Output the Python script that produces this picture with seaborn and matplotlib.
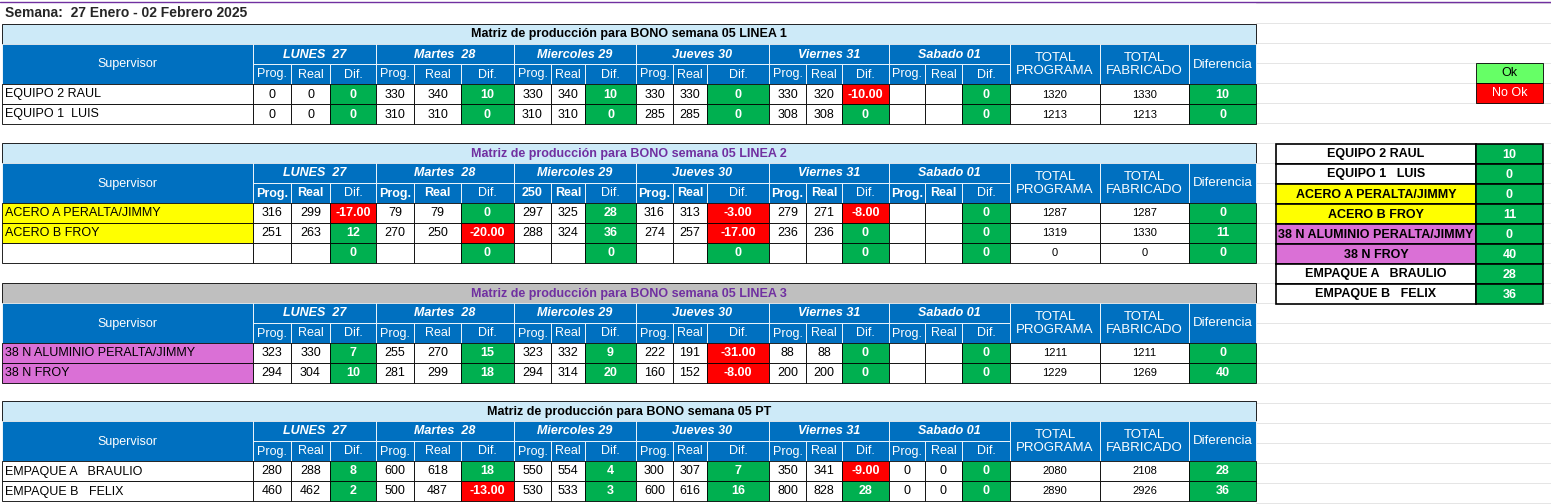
import matplotlib
matplotlib.use("Agg")
import matplotlib.pyplot as plt
from matplotlib.patches import Rectangle
import seaborn as sns

sns.set_style("white")
plt.rcParams["font.family"] = ["Liberation Sans", "DejaVu Sans"]

# ---- data ----
week_label = "Semana:  27 Enero - 02 Febrero 2025"
days = ["LUNES  27", "Martes  28", "Miercoles 29", "Jueves 30", "Viernes 31", "Sabado 01"]

titles = [
    "Matriz de producción para BONO semana 05 LINEA 1",
    "Matriz de producción para BONO semana 05 LINEA 2",
    "Matriz de producción para BONO semana 05 LINEA 3",
    "Matriz de producción para BONO semana 05 PT",
]

linea1_names = ["EQUIPO 2 RAUL", "EQUIPO 1  LUIS"]
linea1_prog = [[0, 330, 330, 330, 330, None], [0, 310, 310, 285, 308, None]]
linea1_real = [[0, 340, 340, 330, 320, None], [0, 310, 310, 285, 308, None]]
linea1_dif = [[0, 10, 10, 0, -10, 0], [0, 0, 0, 0, 0, 0]]
linea1_tot = [[1320, 1330, 10], [1213, 1213, 0]]

linea2_names = ["ACERO A PERALTA/JIMMY", "ACERO B FROY", ""]
linea2_prog = [[316, 79, 297, 316, 279, None], [251, 270, 288, 274, 236, None], [None] * 6]
linea2_real = [[299, 79, 325, 313, 271, None], [263, 250, 324, 257, 236, None], [None] * 6]
linea2_dif = [[-17, 0, 28, -3, -8, 0], [12, -20, 36, -17, 0, 0], [0, 0, 0, 0, 0, 0]]
linea2_tot = [[1287, 1287, 0], [1319, 1330, 11], [0, 0, 0]]

linea3_names = ["38 N ALUMINIO PERALTA/JIMMY", "38 N FROY"]
linea3_prog = [[323, 255, 323, 222, 88, None], [294, 281, 294, 160, 200, None]]
linea3_real = [[330, 270, 332, 191, 88, None], [304, 299, 314, 152, 200, None]]
linea3_dif = [[7, 15, 9, -31, 0, 0], [10, 18, 20, -8, 0, 0]]
linea3_tot = [[1211, 1211, 0], [1229, 1269, 40]]

pt_names = ["EMPAQUE A   BRAULIO", "EMPAQUE B   FELIX"]
pt_prog = [[280, 600, 550, 300, 350, 0], [460, 500, 530, 600, 800, 0]]
pt_real = [[288, 618, 554, 307, 341, 0], [462, 487, 533, 616, 828, 0]]
pt_dif = [[8, 18, 4, 7, -9, 0], [2, -13, 3, 16, 28, 0]]
pt_tot = [[2080, 2108, 28], [2890, 2926, 36]]

summary_names = ["EQUIPO 2 RAUL", "EQUIPO 1   LUIS", "ACERO A PERALTA/JIMMY", "ACERO B FROY",
                 "38 N ALUMINIO PERALTA/JIMMY", "38 N FROY", "EMPAQUE A   BRAULIO", "EMPAQUE B   FELIX"]
summary_vals = [10, 0, 0, 11, 0, 40, 28, 36]

# ---- styles ----
BLUE = "#0070C0"
LIGHT = "#CDEAF8"
GRAY = "#BFBFBF"
GREEN = "#00B050"
RED = "#FF0000"
YELLOW = "#FFFF00"
PINK = "#DA70D6"
PURPLE = "#7030A0"

day_x = [(253, 291, 330, 376), (376, 414, 461, 514), (514, 551, 585, 636),
         (636, 673, 707, 769), (769, 806, 842, 889), (889, 925, 962, 1010)]
tot_x = [1010, 1100, 1189, 1256]
RH = 20

fig = plt.figure(figsize=(15.51, 5.04), dpi=100)
ax = fig.add_axes([0, 0, 1, 1])
ax.set_xlim(0, 1551)
ax.set_ylim(504, 0)
ax.axis("off")

# faint sheet grid on the right side
for y in range(3, 504, 20):
    ax.plot([1256, 1551], [y, y], color="#E0E0E0", lw=0.6, zorder=0)
ax.plot([0, 1551], [2, 2], color=PURPLE, lw=1, zorder=0)


def cell(x0, x1, y0, y1, fc="white", text="", color="black", bold=False, italic=False,
         ha="center", size=9, ec="black", lw=0.6):
    ax.add_patch(Rectangle((x0, y0), x1 - x0, y1 - y0, facecolor=fc, edgecolor=ec, lw=lw, zorder=1))
    if text != "":
        tx = {"center": (x0 + x1) / 2, "left": x0 + 3, "right": x1 - 3}[ha]
        ax.text(tx, (y0 + y1) / 2 + 0.5, text, ha=ha, va="center", fontsize=size, color=color,
                fontweight="bold" if bold else "normal", fontstyle="italic" if italic else "normal",
                zorder=2)


def fmt_dif(v):
    return f"{v:.2f}" if v < 0 else f"{v}"


def table(top, title, title_fc, title_color, names, prog, real, dif, tot, name_fc, hdr_bold, special=None):
    cell(2, tot_x[-1], top, top + RH, fc=title_fc, text=title, color=title_color, bold=True)
    h0, h1, h2 = top + RH, top + 2 * RH, top + 3 * RH
    cell(2, 253, h0, h2, fc=BLUE, text="Supervisor", color="white", ec="white")
    for d, (a, b, c, e) in enumerate(day_x):
        cell(a, e, h0, h1, fc=BLUE, text=days[d], color="white", bold=True, italic=True, ec="white")
        ptxt = "Prog."
        if special and d in special:
            ptxt = special[d]
        cell(a, b, h1, h2, fc=BLUE, text=ptxt, color="white", bold=hdr_bold, ec="white")
        cell(b, c, h1, h2, fc=BLUE, text="Real", color="white", bold=hdr_bold, ec="white")
        cell(c, e, h1, h2, fc=BLUE, text="Dif.", color="white", ec="white")
    for lbl, (a, b) in zip(["TOTAL\nPROGRAMA", "TOTAL\nFABRICADO", "Diferencia"],
                           zip(tot_x[:-1], tot_x[1:])):
        cell(a, b, h0, h2, fc=BLUE, text=lbl, color="white", ec="white", size=9.5)
    for r, name in enumerate(names):
        y0, y1 = h2 + r * RH, h2 + (r + 1) * RH
        cell(2, 253, y0, y1, fc=name_fc[r], text=name, ha="left")
        for d, (a, b, c, e) in enumerate(day_x):
            p, q, v = prog[r][d], real[r][d], dif[r][d]
            cell(a, b, y0, y1, text="" if p is None else str(p))
            cell(b, c, y0, y1, text="" if q is None else str(q))
            cell(c, e, y0, y1, fc=RED if v < 0 else GREEN, text=fmt_dif(v),
                 color="white", bold=True)
        cell(tot_x[0], tot_x[1], y0, y1, text=str(tot[r][0]), size=8)
        cell(tot_x[1], tot_x[2], y0, y1, text=str(tot[r][1]), size=8)
        cell(tot_x[2], tot_x[3], y0, y1, fc=GREEN, text=str(tot[r][2]), color="white", bold=True)


ax.text(5, 13, week_label, ha="left", va="center", fontsize=10, fontweight="bold")

table(24, titles[0], LIGHT, "black", linea1_names, linea1_prog, linea1_real, linea1_dif,
      linea1_tot, ["white"] * 2, False)
table(143, titles[1], LIGHT, PURPLE, linea2_names, linea2_prog, linea2_real, linea2_dif,
      linea2_tot, [YELLOW, YELLOW, "white"], True, special={2: "250"})
table(283, titles[2], GRAY, PURPLE, linea3_names, linea3_prog, linea3_real, linea3_dif,
      linea3_tot, [PINK, PINK], False)
table(401, titles[3], LIGHT, "black", pt_names, pt_prog, pt_real, pt_dif,
      pt_tot, ["white"] * 2, False)

# legend boxes
cell(1476, 1543, 63, 83, fc="#66FF66", text="Ok")
cell(1476, 1543, 83, 103, fc=RED, text="No Ok", color="white")

# summary table
sum_fc = ["white", "white", YELLOW, YELLOW, PINK, PINK, "white", "white"]
for i, (n, v) in enumerate(zip(summary_names, summary_vals)):
    y0 = 144 + i * RH
    cell(1276, 1476, y0, y0 + RH, fc=sum_fc[i], text=n, bold=True, lw=1.2)
    cell(1476, 1543, y0, y0 + RH, fc=GREEN, text=str(v), color="white", bold=True, lw=1.2)

fig.savefig("out.png", dpi=100)
